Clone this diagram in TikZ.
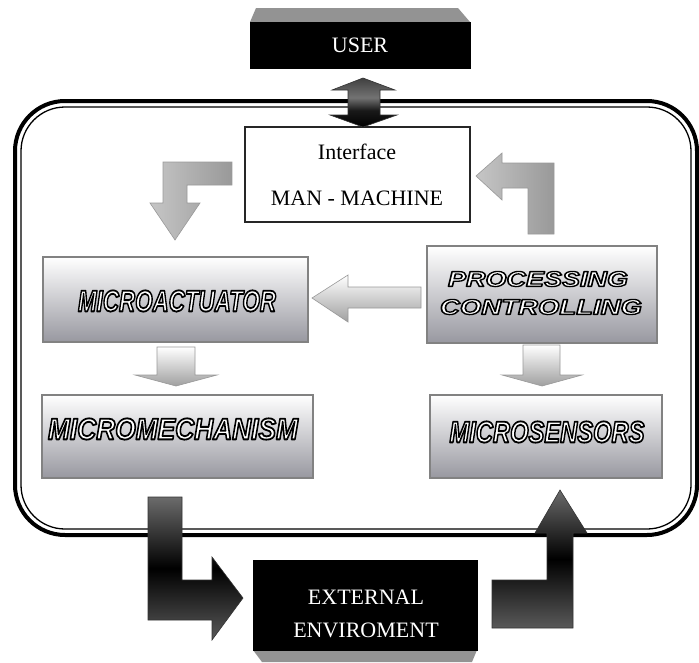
\documentclass[tikz,border=0pt]{standalone}
\usepackage{fontspec}
\setmainfont{Liberation Serif}
\newfontfamily\osans{Liberation Sans}
\usepackage{graphicx}
\newcommand{\otext}[3]{{\osans\bfseries\itshape\fontsize{28}{30}\selectfont\resizebox{#1pt}{#2pt}{\color{white}\special{pdf:literal direct 0 0 0 RG 2 Tr 1.7 w 1 j}#3\special{pdf:literal direct 0 Tr}}}}
\definecolor{boxbot}{RGB}{152,152,160}
\definecolor{boxedge}{RGB}{130,130,130}
\pgfdeclareverticalshading{darkL}{100bp}{color(0bp)=(black!65); color(25bp)=(black!65); color(50bp)=(black); color(75bp)=(black!58); color(100bp)=(black!58)}
\pgfdeclareverticalshading{dblA}{100bp}{color(0bp)=(black); color(25bp)=(black); color(42bp)=(black!90); color(55bp)=(black!55); color(75bp)=(black!75); color(100bp)=(black!75)}
\begin{document}
\begin{tikzpicture}[x=1pt,y=-1pt,
  gbox/.style={draw=boxedge, line width=1.2pt, top color=white, bottom color=boxbot, inner sep=0pt},
  blackbox/.style={fill=black, draw=black, inner sep=0pt, text=white, font=\fontsize{22}{26}\selectfont, align=center},
  lightarrow/.style={draw=gray!80, line width=0.6pt, top color=white, bottom color=gray!75},
  lightarrowh/.style={draw=gray!80, line width=0.6pt, left color=gray!45, right color=gray!80},
  darkarrow/.style={draw=black!80, line width=0.6pt, shade, shading=darkL},
  serif/.style={font=\fontsize{22}{26}\selectfont}
]
\useasboundingbox (0,0) rectangle (699,662);
\fill[white] (0,0) rectangle (699,662);

% system border (double line)
\draw[line width=4pt, rounded corners=50pt] (15,101) rectangle (697,535);
\draw[line width=1.3pt, rounded corners=44pt] (21,107) rectangle (691,529);

% USER box with bevel
\fill[gray!85] (250,22) -- (256,8) -- (458,8) -- (470,22) -- cycle;
\node[blackbox, minimum width=220pt, minimum height=46pt] (user) at (360,45) {USER};

% EXTERNAL box with bevel
\fill[gray!85] (253,650) -- (477,650) -- (472,662) -- (262,662) -- cycle;
\node[blackbox, minimum width=224pt, minimum height=90pt] (ext) at (365,605) {};
\node[text=white, serif] (ext1) at (366,597) {EXTERNAL};
\node[text=white, serif] (ext2) at (366,630) {ENVIROMENT};

% Interface box
\node[draw=black!85, line width=1.2pt, fill=white, minimum width=225pt, minimum height=95pt] (iface) at (357.5,174.5) {};
\node[serif] (iface1) at (357,152) {Interface};
\node[serif] (iface2) at (357,198) {MAN - MACHINE};

% gradient boxes
\node[gbox, minimum width=265pt, minimum height=85pt] (act) at (175.5,299.5) {};
\node[gbox, minimum width=230pt, minimum height=97pt] (proc) at (542,294.5) {};
\node[gbox, minimum width=271pt, minimum height=83pt] (mech) at (177.5,436.5) {};
\node[gbox, minimum width=232pt, minimum height=83pt] (sens) at (546,436.5) {};

\node[inner sep=0pt] (actt) at (177,301) {\otext{198}{21}{MICROACTUATOR}};
\node[inner sep=0pt] (mecht) at (173,429) {\otext{250}{21}{MICROMECHANISM}};
\node[inner sep=0pt] (senst) at (547,432) {\otext{195}{21}{MICROSENSORS}};
\node[inner sep=0pt] (proct1) at (538,279) {\otext{180}{15}{PROCESSING}};
\node[inner sep=0pt] (proct2) at (541,307) {\otext{202}{15}{CONTROLLING}};

% double arrow USER <-> Interface
\draw[draw=black!80, line width=0.6pt, shade, shading=dblA]
  (363,78) -- (395,90) -- (380,90) -- (380,115) -- (397,115) -- (363,127)
  -- (330,115) -- (348,115) -- (348,90) -- (332,90) -- cycle;

% top-left L arrow (Interface -> MICROACTUATOR)
\draw[lightarrowh] (163,162) -- (232,162) -- (232,185) -- (187,185) -- (187,203) -- (200,203)
  -- (175,240) -- (150,203) -- (163,203) -- cycle;

% top-right L arrow (PROCESSING -> Interface)
\draw[lightarrowh] (502,163) -- (554,163) -- (554,234) -- (528,234) -- (528,188) -- (502,188)
  -- (502,200) -- (476,176) -- (502,153) -- cycle;

% left arrow PROCESSING -> MICROACTUATOR
\draw[lightarrow] (421,287) -- (421,308) -- (348,308) -- (348,322) -- (312,298) -- (348,275) -- (348,287) -- cycle;

% down arrows
\draw[lightarrow] (157,347) -- (195,347) -- (195,375) -- (217,375) -- (176,386) -- (135,375) -- (157,375) -- cycle;
\draw[lightarrow] (523,345) -- (560,345) -- (560,375) -- (582,375) -- (542,386) -- (502,375) -- (523,375) -- cycle;

% dark L arrows
\draw[darkarrow] (148,497) -- (182,497) -- (182,580) -- (212,580) -- (212,557) -- (243,598)
  -- (212,640) -- (212,620) -- (148,620) -- cycle;
\draw[darkarrow] (492,580) -- (547,580) -- (547,533) -- (535,533) -- (560,490) -- (587,533)
  -- (573,533) -- (573,628) -- (492,628) -- cycle;
\end{tikzpicture}
\end{document}
